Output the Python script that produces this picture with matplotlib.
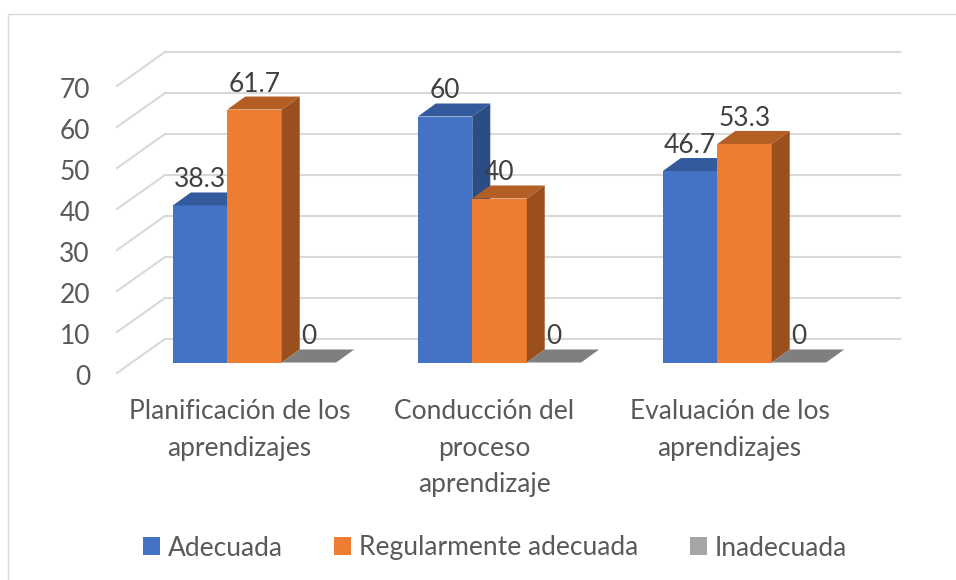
import matplotlib.pyplot as plt
from matplotlib.patches import Polygon, Patch, Rectangle
import numpy as np

# data
categories = ["Planificación de los\naprendizajes",
              "Conducción del\nproceso\naprendizaje",
              "Evaluación de los\naprendizajes"]
series = ["Adecuada", "Regularmente adecuada", "Inadecuada"]
adecuada = [38.3, 60, 46.7]
regular = [61.7, 40, 53.3]
inadecuada = [0, 0, 0]
yticks = [0, 10, 20, 30, 40, 50, 60, 70]

front = ["#4472C4", "#ED7D31", "#A5A5A5"]
top = ["#335A9C", "#B35E22", "#7F7F7F"]
side = ["#2C4C84", "#9B4F1D", "#7C7C7C"]
values = [adecuada, regular, inadecuada]

plt.rcParams["font.family"] = ["Lato", "DejaVu Sans"]
fs = 19

fig = plt.figure(figsize=(9.56, 5.8), dpi=100)
ax = fig.add_axes([0, 0, 1, 1])
# pixel layout: category unit = 245 px, value unit = 4.1 px
ax.set_xlim(-117 / 245, (956 - 117) / 245)
ax.set_ylim((373 - 580) / 4.1, 373 / 4.1)
ax.axis("off")

# floor depth and bar depth (data units)
DX, DY = 48 / 245, 34 / 4.1
dx, dy = 18 / 245, 13 / 4.1
ox, oy = (DX - dx) / 2, (DY - dy) / 2

grid = "#D9D9D9"
ncat = len(categories)
for v in yticks:
    ax.plot([0, DX], [v, v + DY], color=grid, lw=1.5, zorder=1)
    ax.plot([DX, ncat + DX], [v + DY, v + DY], color=grid, lw=1.5, zorder=1)
    ax.annotate(str(v), (-27 / 245, v), xytext=(0, -3), textcoords="offset points",
                ha="right", va="center", fontsize=fs, color="#595959")

gap = 1.5
w = 1 / (len(series) + gap)
z = 2
for i in range(ncat):
    x0 = i + gap * w / 2 + ox
    for s in range(len(series)):
        v = values[s][i]
        xl = x0 + s * w
        xr = xl + w
        ax.bar(xl, v, width=w, bottom=oy, align="edge", color=front[s],
               linewidth=0, zorder=z)
        ax.add_patch(Polygon([(xl, v + oy), (xr, v + oy), (xr + dx, v + oy + dy),
                              (xl + dx, v + oy + dy)], closed=True,
                             facecolor=top[s], edgecolor="none", zorder=z))
        if v > 0:
            ax.add_patch(Polygon([(xr, oy), (xr + dx, oy + dy), (xr + dx, v + oy + dy),
                                  (xr, v + oy)], closed=True,
                                 facecolor=side[s], edgecolor="none", zorder=z))
        ax.annotate(f"{v:g}", (xl + w / 2, v + oy + dy), xytext=(0, 9),
                    textcoords="offset points", ha="center", va="center",
                    fontsize=fs, color="#404040", zorder=10)
        z += 1
    ax.text(i + 0.5, -6.4, categories[i], ha="center", va="top",
            fontsize=fs, color="#595959", linespacing=1.58)

handles = [Patch(facecolor=front[s], edgecolor="none") for s in range(len(series))]
fig.legend(handles, series, loc="center", ncol=3, frameon=False,
           bbox_to_anchor=(495 / 956, (580 - 548) / 580), fontsize=fs,
           labelcolor="#595959", handlelength=0.65, handleheight=0.65,
           handletextpad=0.3, columnspacing=1.95)

fig.add_artist(Rectangle((8 / 956, -0.05), 1.1, (580 - 14) / 580 + 0.05,
                         transform=fig.transFigure, fill=False,
                         edgecolor="#D9D9D9", lw=1))

fig.savefig("out.png", dpi=100, facecolor="white")
